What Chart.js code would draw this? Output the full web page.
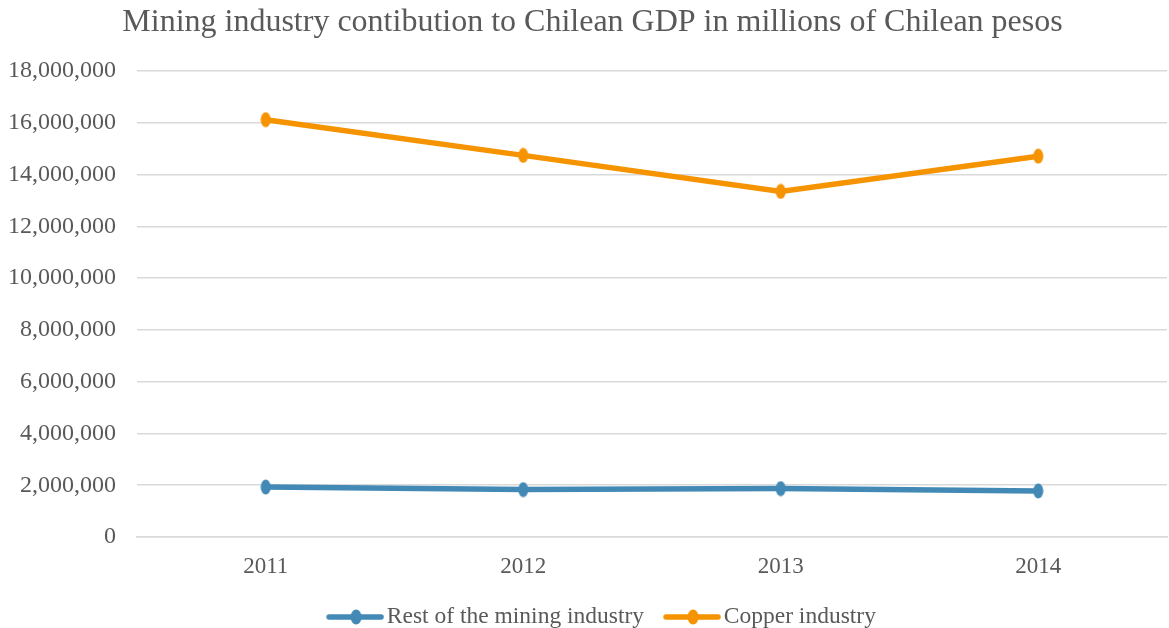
<!DOCTYPE html>
<html>
<head>
<meta charset="utf-8">
<script src="https://cdn.jsdelivr.net/npm/chart.js@4.4.1/dist/chart.umd.min.js"></script>
<style>
html,body{margin:0;padding:0;background:#fff;}
#wrap{width:1169px;height:628px;position:relative;}
</style>
</head>
<body>
<div id="wrap"><canvas id="c" width="1169" height="628"></canvas></div>
<script>
const chartTitle = "Mining industry contibution to Chilean GDP in millions of Chilean pesos";
const years = ["2011", "2012", "2013", "2014"];
const restOfMining = [1930000, 1830000, 1870000, 1780000];
const copperIndustry = [16120000, 14740000, 13350000, 14710000];
const seriesNames = ["Rest of the mining industry", "Copper industry"];
const yTickStep = 2000000;
const yMax = 18000000;

const BLUE = "#4389B6";
const ORANGE = "#F59400";
const TEXT = "#595959";
const GRID = "#d9d9d9";
const FONT = "'Liberation Serif', 'Times New Roman', serif";

function markerIcon(color){
  const cv = document.createElement('canvas');
  cv.width = 11; cv.height = 16;
  const g = cv.getContext('2d');
  g.fillStyle = color;
  g.beginPath(); g.ellipse(5.5, 8, 5, 7.5, 0, 0, Math.PI*2); g.fill();
  return cv;
}
function legendIcon(color){
  const cv = document.createElement('canvas');
  cv.width = 66; cv.height = 16;
  const g = cv.getContext('2d');
  g.strokeStyle = color; g.lineWidth = 5.5; g.lineCap = 'round';
  g.beginPath(); g.moveTo(11, 8); g.lineTo(63, 8); g.stroke();
  g.fillStyle = color;
  g.beginPath(); g.ellipse(38, 8, 5.5, 7.5, 0, 0, Math.PI*2); g.fill();
  return cv;
}
const markers = [markerIcon(BLUE), markerIcon(ORANGE)];
const icons = [legendIcon(BLUE), legendIcon(ORANGE)];

const shiftPlugin = {
  id: 'shiftBlocks',
  afterLayout(chart) {
    const lg = chart.legend;
    if (lg) { const dx = 18, dy = 10.75; lg.left += dx; lg.right += dx; lg.top += dy; lg.bottom += dy; }
    const tb = chart.titleBlock;
    if (tb) { const dx = 9; tb.left += dx; tb.right += dx; }
  }
};

new Chart(document.getElementById('c'), {
  type: 'line',
  data: {
    labels: years,
    datasets: [
      {label: seriesNames[0], data: restOfMining, borderColor: BLUE, backgroundColor: BLUE,
       borderWidth: 5.5, pointStyle: markers[0], pointRadius: 7, tension: 0},
      {label: seriesNames[1], data: copperIndustry, borderColor: ORANGE, backgroundColor: ORANGE,
       borderWidth: 5.5, pointStyle: markers[1], pointRadius: 7, tension: 0}
    ]
  },
  plugins: [shiftPlugin],
  options: {
    responsive: false,
    animation: false,
    layout: {autoPadding: false, padding: {left: 0, right: 2, top: 3, bottom: 0}},
    plugins: {
      title: {display: true, text: chartTitle, color: TEXT,
        font: {family: FONT, size: 32, weight: 'normal'}, padding: {top: 0, bottom: 29.6}},
      legend: {position: 'bottom',
        labels: {usePointStyle: true, pointStyleWidth: 48, color: TEXT,
          font: {family: FONT, size: 23.5}, padding: 20,
          generateLabels: (chart) => chart.data.datasets.map((ds, i) => ({
            text: ds.label, pointStyle: icons[i], fillStyle: ds.borderColor,
            strokeStyle: ds.borderColor, lineWidth: 0, hidden: false, datasetIndex: i, fontColor: TEXT
          }))
        }
      },
      tooltip: {enabled: false}
    },
    scales: {
      x: {
        offset: true,
        grid: {display: false, drawTicks: false},
        border: {display: true, color: GRID, width: 1.5},
        ticks: {color: TEXT, font: {family: FONT, size: 23}, padding: 16},
        afterFit: (s) => { s.height = 37.5; s.paddingLeft = 0; s.paddingRight = 0; }
      },
      y: {
        min: 0, max: yMax,
        grid: {color: GRID, lineWidth: 1.5, drawTicks: false},
        border: {display: false},
        ticks: {stepSize: yTickStep, color: TEXT, font: {family: FONT, size: 24}, padding: 21,
          callback: (v) => v.toLocaleString('en-US')},
        afterFit: (s) => { s.width = 137; }
      }
    }
  }
});
</script>
</body>
</html>
